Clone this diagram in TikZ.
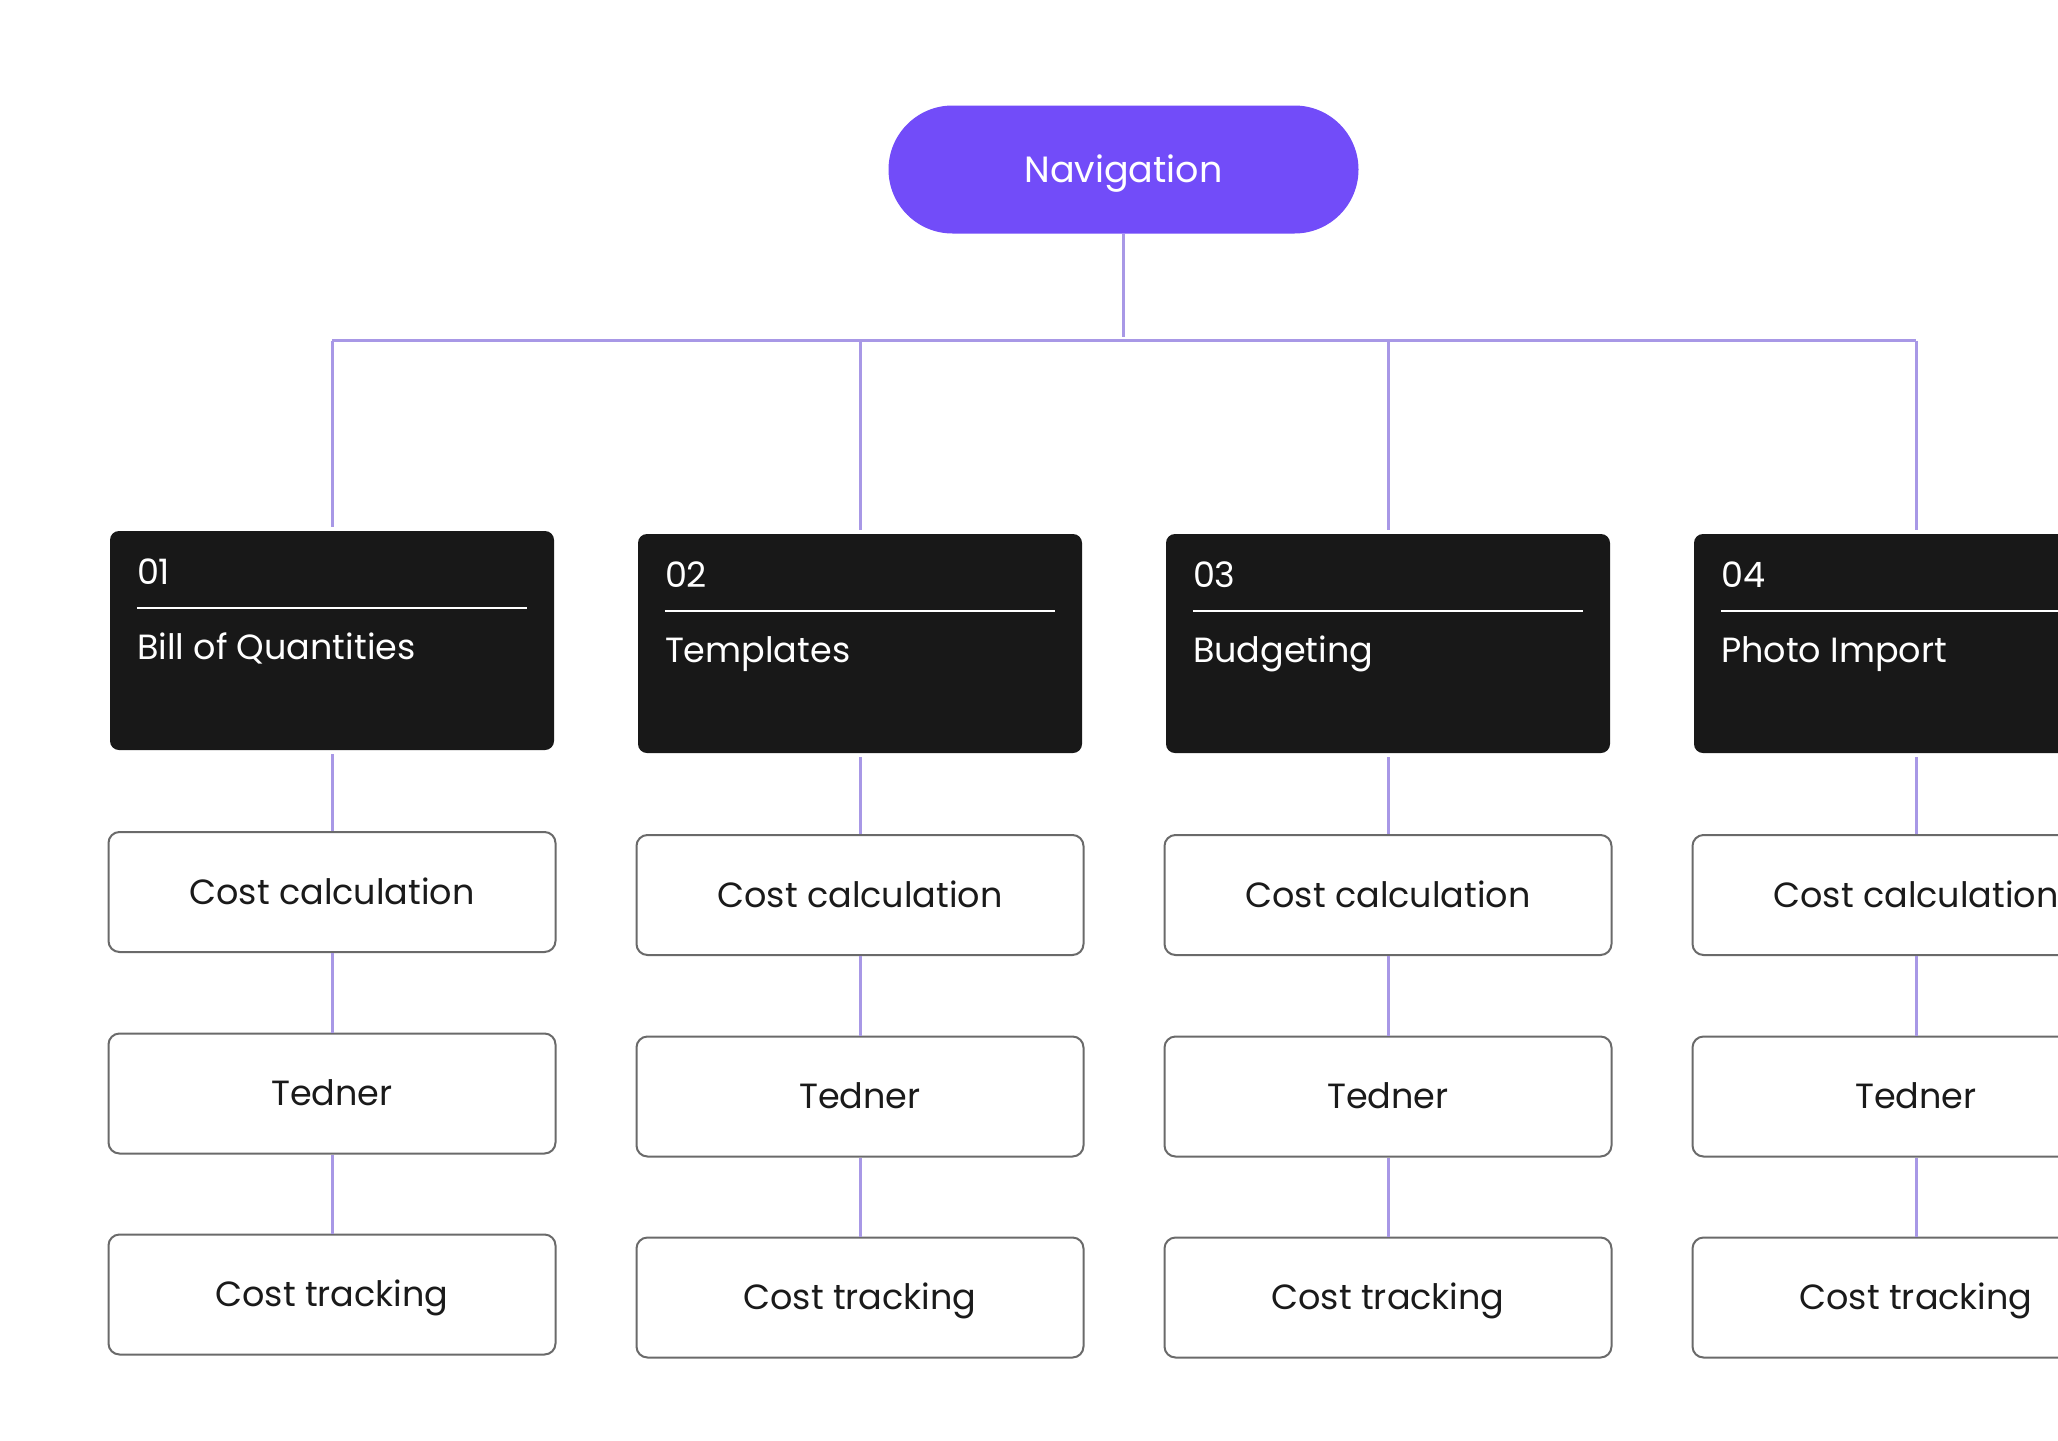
\documentclass[tikz,border=0pt]{standalone}
\usepackage{fontspec}
\setmainfont{Poppins}
\definecolor{navc}{HTML}{724CF9}
\definecolor{lav}{HTML}{A898E6}
\definecolor{blk}{HTML}{181818}
\definecolor{bord}{HTML}{6A6A6A}
\definecolor{txt}{HTML}{1A1A1A}
\newcommand\itemfont{\fontsize{35}{42}\selectfont}
\newcommand\navfont{\fontsize{36.5}{44}\selectfont}
\tikzset{
  conn/.style={draw=lav, line width=3pt},
  navbox/.style={fill=navc, rounded corners=64pt, minimum width=470pt, minimum height=128pt,
    inner sep=0pt, text=white, font=\navfont, text height=25.5pt, text depth=0pt},
  catbox/.style={fill=blk, rounded corners=9pt, minimum width=444pt, minimum height=219pt, inner sep=0pt},
  catnum/.style={anchor=base west, inner sep=0pt, text=white, font=\itemfont},
  catrule/.style={draw=white, line width=2pt},
  itembox/.style={draw=bord, line width=2pt, fill=white, rounded corners=11pt,
    minimum width=447pt, minimum height=120pt, inner sep=0pt, text=txt, font=\itemfont,
    text height=24.5pt, text depth=0pt},
}
\begin{document}
\begin{tikzpicture}[x=1pt,y=-1pt]
\useasboundingbox (0,0) rectangle (2058,1440);
\clip (0,0) rectangle (2058,1440);
\fill[white] (0,0) rectangle (2058,1440);

\node[navbox] (nav) at (1123.5,169.5) {Navigation};

\foreach \i/\x/\t/\num/\name in {1/332/531/01/Bill of Quantities, 2/860/534/02/Templates, 3/1388/534/03/Budgeting, 4/1916/534/04/Photo Import}{
  \coordinate (bus\i) at (\x,340.5);
  \node[catbox] (cat\i) at (\x,\t+109.5) {};
  \node[catnum] (num\i) at ([xshift=27pt,yshift=-54pt]cat\i.north west) {\num};
  \coordinate (rl\i) at ([xshift=27pt,yshift=-77pt]cat\i.north west);
  \coordinate (rr\i) at ([xshift=-27pt,yshift=-77pt]cat\i.north east);
  \draw[catrule] (rl\i) -- (rr\i);
  \node[catnum] (title\i) at ([xshift=27pt,yshift=-129pt]cat\i.north west) {\name};
  \node[itembox] (calc\i) at (\x,\t+361) {Cost calculation};
  \node[itembox] (ten\i) at (\x,\t+562.5) {Tedner};
  \node[itembox] (track\i) at (\x,\t+763.5) {Cost tracking};
  \draw[conn, shorten >=4pt] (bus\i) -- (cat\i.north);
  \draw[conn, shorten <=4pt] (cat\i.south) -- (calc\i.north);
  \draw[conn] (calc\i.south) -- (ten\i.north);
  \draw[conn] (ten\i.south) -- (track\i.north);
}
\draw[conn, line cap=square] (bus1) -- (bus4);
\draw[conn, shorten >=4pt] (nav.south) -- (nav.south |- bus1);
\end{tikzpicture}
\end{document}
